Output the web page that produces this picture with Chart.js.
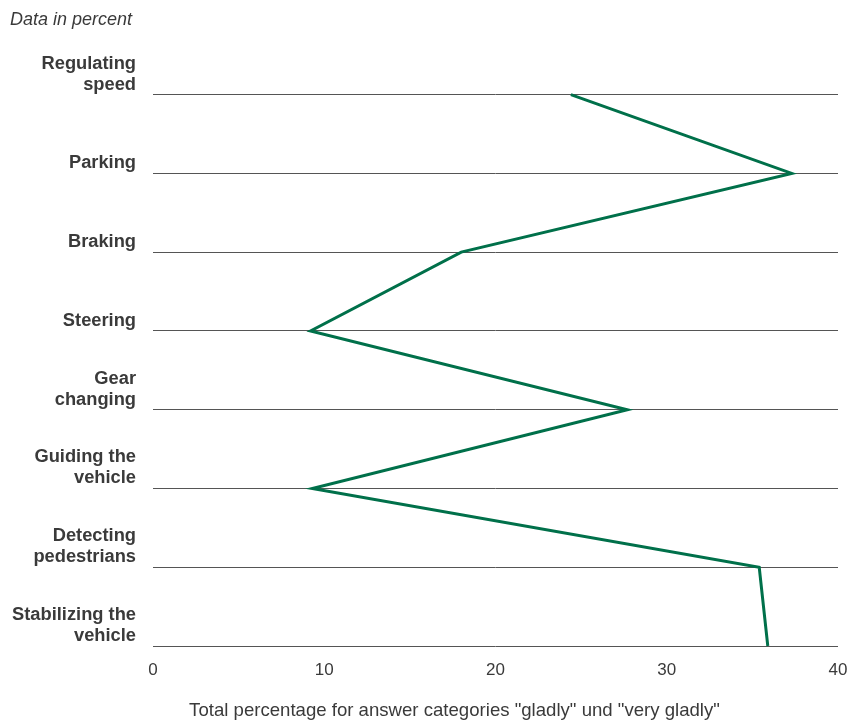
<!DOCTYPE html>
<html>
<head>
<meta charset="utf-8">
<script src="https://cdn.jsdelivr.net/npm/chart.js@4"></script>
<style>
  html, body { margin: 0; padding: 0; background: #fff; }
  #wrap { width: 850px; height: 725px; position: relative; }
</style>
</head>
<body>
<div id="wrap"><canvas id="chart"></canvas></div>
<script>
const categories = [
  ['Regulating', 'speed'],
  ['Parking'],
  ['Braking'],
  ['Steering'],
  ['Gear', 'changing'],
  ['Guiding the', 'vehicle'],
  ['Detecting', 'pedestrians'],
  ['Stabilizing the', 'vehicle']
];
const shares = [24.4, 37.3, 18.0, 9.2, 27.7, 9.3, 35.4, 35.9];
const xTicks = [0, 10, 20, 30, 40];
const xTitle = 'Total percentage for answer categories "gladly" und "very gladly"';

const FONT = '"Liberation Sans", Arial, sans-serif';
const TEXT = '#3a3a3a';

// category labels sit just above their grid line, right aligned;
// the x title is drawn here too since it is not centred on the plot
const sideLabels = {
  id: 'sideLabels',
  afterDraw(chart) {
    const { ctx, scales: { y } } = chart;
    ctx.save();
    ctx.font = 'bold 18.3px ' + FONT;
    ctx.fillStyle = TEXT;
    ctx.textAlign = 'right';
    ctx.textBaseline = 'alphabetic';
    categories.forEach((lines, i) => {
      const py = y.getPixelForValue(i);
      lines.forEach((txt, j) => {
        const off = (lines.length - 1 - j) * 21;
        ctx.fillText(txt, 136, py - 5 - off);
      });
    });
    ctx.font = '18.6px ' + FONT;
    ctx.textAlign = 'center';
    ctx.fillText(xTitle, 454.5, 716);
    ctx.restore();
  }
};

new Chart(document.getElementById('chart'), {
  type: 'line',
  data: {
    labels: categories.map(c => c.join(' ')),
    datasets: [{
      data: shares,
      borderColor: '#00704a',
      borderWidth: 3,
      pointRadius: 0,
      tension: 0,
      fill: false
    }]
  },
  options: {
    indexAxis: 'y',
    responsive: true,
    maintainAspectRatio: false,
    animation: false,
    layout: { padding: { left: 10, right: 12, top: 0, bottom: 0 } },
    plugins: {
      legend: { display: false },
      tooltip: { enabled: false },
      title: {
        display: true,
        text: 'Data in percent',
        align: 'start',
        color: TEXT,
        font: { family: FONT, size: 18, style: 'italic', weight: 'normal' },
        padding: { top: 9, bottom: 64 }
      }
    },
    scales: {
      x: {
        type: 'linear',
        min: 0,
        max: 40,
        afterBuildTicks: (scale) => { scale.ticks = xTicks.map(v => ({ value: v })); },
        grid: { display: false },
        border: { display: false },
        ticks: {
          color: TEXT,
          padding: 6,
          font: { family: FONT, size: 17 }
        },
        afterFit: (scale) => {
          scale.height = 79;
          scale.paddingLeft = 0;
          scale.paddingRight = 0;
        }
      },
      y: {
        type: 'category',
        offset: false,
        grid: {
          display: true,
          color: '#555',
          lineWidth: 1,
          drawTicks: false
        },
        border: { display: false },
        ticks: { display: false },
        afterFit: (scale) => { scale.width = 143; }
      }
    }
  },
  plugins: [sideLabels]
});
</script>
</body>
</html>
